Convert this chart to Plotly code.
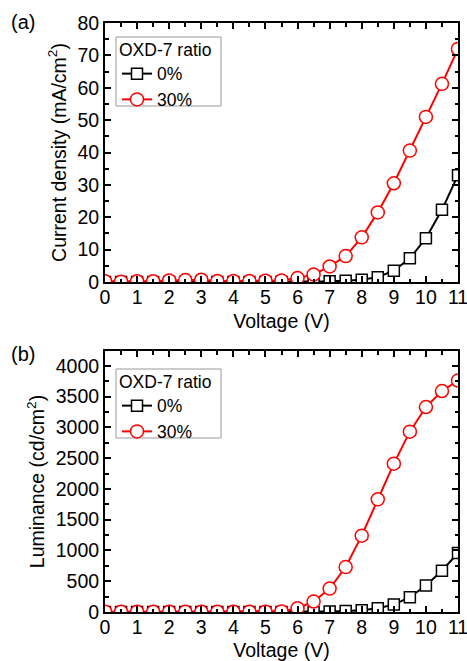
import plotly.graph_objects as go

voltage = [0, 0.5, 1, 1.5, 2, 2.5, 3, 3.5, 4, 4.5, 5, 5.5, 6, 6.5, 7, 7.5, 8, 8.5, 9, 9.5, 10, 10.5, 11]

# Current density (mA/cm^2)
j_0 = [0, 0, 0, 0, 0, 0, 0, 0, 0, 0, 0, 0, 0.05, 0.1, 0.2, 0.4, 0.7, 1.5, 3.5, 7.3, 13.5, 22.3, 33.0]
j_30 = [0.2, 0.1, 0.2, 0.2, 0.5, 0.6, 0.7, 0.3, 0.3, 0.3, 0.4, 0.5, 1.2, 2.3, 4.8, 8.0, 13.8, 21.5, 30.5, 40.6, 51.0, 61.2, 72.0]

# Luminance (cd/cm^2)
l_0 = [0, 0, 0, 0, 0, 0, 0, 0, 0, 0, 0, 0, 0, 2, 10, 15, 30, 60, 120, 240, 430, 670, 960]
l_30 = [5, 3, 3, 3, 3, 3, 3, 3, 3, 3, 5, 10, 60, 170, 380, 730, 1240, 1830, 2410, 2930, 3330, 3590, 3760]

series_names = ["0%", "30%"]
x_ticks = list(range(0, 12))
font_family = "Liberation Sans, Arial, sans-serif"

fig = go.Figure()

def add_pair(yk, leg, y0, y30):
    xk = "x" if yk == "y" else "x2"
    fig.add_trace(go.Scatter(
        x=voltage, y=y0, name=series_names[0], mode="lines+markers",
        line=dict(color="black", width=2),
        marker=dict(symbol="square", size=11, color="white", line=dict(color="black", width=1.5)),
        xaxis=xk, yaxis=yk, legend=leg))
    fig.add_trace(go.Scatter(
        x=voltage, y=y30, name=series_names[1], mode="lines+markers",
        line=dict(color="#FF0000", width=2),
        marker=dict(symbol="circle", size=13, color="white", line=dict(color="#FF0000", width=1.5)),
        xaxis=xk, yaxis=yk, legend=leg))

add_pair("y", "legend", j_0, j_30)
add_pair("y2", "legend2", l_0, l_30)

axis_common = dict(
    showline=True, linecolor="black", linewidth=2, mirror="allticks",
    ticks="inside", ticklen=6, tickwidth=1.5, tickcolor="black",
    showgrid=False, zeroline=False, automargin=False, ticklabeloverflow="allow",
    tickfont=dict(family=font_family, size=19.5, color="black"),
)
xdom = [105 / 467, 458 / 467]
H = 661
W = 467
title_font = dict(size=19.5)
leg_common = dict(xanchor="left", yanchor="top",
                  borderwidth=0, bgcolor="rgba(0,0,0,0)",
                  title=dict(text="OXD-7 ratio", font=dict(size=17.5)),
                  font=dict(size=17.5), tracegroupgap=0, itemsizing="trace")
x_minor = dict(ticks="inside", ticklen=3.5, dtick=0.5, tickcolor="black", tickwidth=1.5)

fig.update_layout(
    width=W, height=H,
    paper_bgcolor="white", plot_bgcolor="white",
    margin=dict(l=0, r=0, t=0, b=0),
    font=dict(family=font_family, color="black"),
    xaxis=dict(axis_common, domain=xdom, anchor="y", range=[0, 11], tickvals=x_ticks,
               minor=x_minor, ticklabelstandoff=-3,
               title=dict(text="Voltage (V)", font=title_font, standoff=7)),
    yaxis=dict(axis_common, domain=[(H - 282) / H, (H - 23) / H], anchor="x", range=[0, 80], dtick=10,
               minor=dict(ticks="inside", ticklen=3.5, dtick=5, tickcolor="black", tickwidth=1.5),
               title=dict(text="Current density (mA/cm<sup>2</sup>)", font=title_font, standoff=6)),
    xaxis2=dict(axis_common, domain=xdom, anchor="y2", range=[0, 11], tickvals=x_ticks,
                minor=x_minor, ticklabelstandoff=-3,
                title=dict(text="Voltage (V)", font=title_font, standoff=7)),
    yaxis2=dict(axis_common, domain=[(H - 612) / H, (H - 351) / H], anchor="x2", range=[0, 4240], dtick=500,
                minor=dict(ticks="inside", ticklen=3.5, dtick=250, tickcolor="black", tickwidth=1.5),
                title=dict(text="Luminance (cd/cm<sup>2</sup>)", font=title_font, standoff=6)),
    legend=dict(leg_common, x=117 / W, y=(H - 33) / H),
    legend2=dict(leg_common, x=117 / W, y=(H - 365) / H),
    shapes=[
        dict(type="rect", xref="paper", yref="paper", layer="above",
             x0=116 / W, x1=221 / W, y0=(H - 106) / H, y1=(H - 37) / H,
             line=dict(color="#999999", width=1), fillcolor="white"),
        dict(type="rect", xref="paper", yref="paper", layer="above",
             x0=116 / W, x1=221 / W, y0=(H - 438) / H, y1=(H - 369) / H,
             line=dict(color="#999999", width=1), fillcolor="white"),
    ],
    annotations=[
        dict(text="(a)", x=9 / W, y=(H - 22) / H, xref="paper", yref="paper",
             xanchor="left", yanchor="middle", showarrow=False, font=dict(size=20)),
        dict(text="(b)", x=9 / W, y=(H - 354) / H, xref="paper", yref="paper",
             xanchor="left", yanchor="middle", showarrow=False, font=dict(size=20)),
    ],
)

fig.write_html("out.html", config={"displayModeBar": False},
               post_script="document.body.style.margin='0';")
